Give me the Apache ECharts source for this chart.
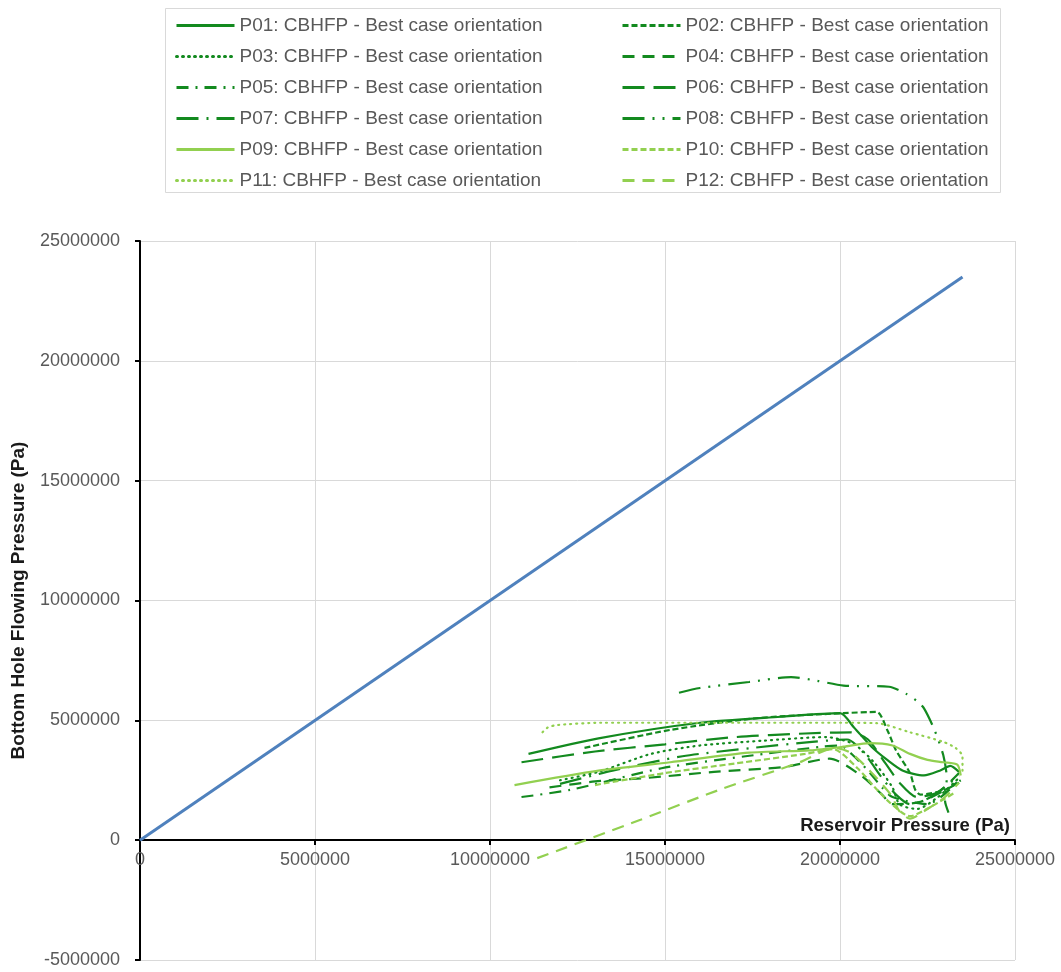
<!DOCTYPE html>
<html>
<head>
<meta charset="utf-8">
<script src="https://cdn.jsdelivr.net/npm/echarts@6/dist/echarts.min.js"></script>
<style>
  html, body { margin: 0; padding: 0; background: #fff; }
  #chart { width: 1061px; height: 972px; }
</style>
</head>
<body>
<div id="chart"></div>
<script>
// Reservoir pressure (x, Pa) against bottom hole flowing pressure (y, Pa)
const xTicks = [0, 5000000, 10000000, 15000000, 20000000, 25000000];
const yTicks = [-5000000, 0, 5000000, 10000000, 15000000, 20000000, 25000000];

const referenceLine = [[0, 0], [23.5e6, 23.5e6]];

const p01 = [[11.1e6, 3.6e6], [13.1e6, 4.25e6], [16.0e6, 4.9e6], [18.3e6, 5.15e6], [20.0e6, 5.3e6],
  [20.4e6, 4.7e6], [20.9e6, 3.9e6], [21.35e6, 3.35e6], [21.8e6, 2.9e6], [22.4e6, 2.7e6],
  [22.85e6, 2.9e6], [23.15e6, 3.1e6], [23.4e6, 2.85e6]];
const p02 = [[12.7e6, 3.85e6], [15.15e6, 4.6e6], [17.7e6, 5.1e6], [20.1e6, 5.3e6], [21.05e6, 5.35e6],
  [21.35e6, 4.6e6], [21.6e6, 3.75e6], [22.0e6, 2.8e6], [22.15e6, 2.1e6], [22.3e6, 1.9e6],
  [23.0e6, 2.1e6], [23.45e6, 2.5e6]];
const p03 = [[12.0e6, 2.5e6], [13.1e6, 2.85e6], [14.6e6, 3.6e6], [16.0e6, 3.95e6], [17.8e6, 4.15e6],
  [19.6e6, 4.3e6], [20.4e6, 4.0e6], [21.0e6, 3.2e6], [21.5e6, 2.2e6], [21.7e6, 1.5e6],
  [22.2e6, 1.3e6], [22.8e6, 1.8e6], [23.4e6, 2.6e6]];
const p04 = [[11.7e6, 2.2e6], [13.0e6, 2.45e6], [14.5e6, 2.6e6], [16.4e6, 2.85e6], [18.4e6, 3.05e6],
  [19.7e6, 3.4e6], [20.6e6, 2.7e6], [21.2e6, 1.9e6], [21.5e6, 1.5e6], [22.3e6, 1.6e6], [23.4e6, 2.4e6]];
const p05 = [[10.9e6, 1.8e6], [12.3e6, 2.1e6], [14.9e6, 3.0e6], [17.3e6, 3.5e6], [19.5e6, 3.9e6],
  [20.0e6, 3.95e6], [20.4e6, 3.5e6], [20.8e6, 2.9e6], [21.2e6, 2.2e6], [21.5e6, 1.8e6],
  [22.5e6, 1.5e6], [23.4e6, 2.5e6]];
const p06 = [[10.9e6, 3.25e6], [13.0e6, 3.7e6], [15.0e6, 4.0e6], [17.0e6, 4.3e6], [19.0e6, 4.45e6],
  [20.3e6, 4.5e6], [20.8e6, 4.2e6], [21.3e6, 3.2e6], [21.7e6, 2.4e6], [22.2e6, 1.8e6],
  [22.8e6, 2.0e6], [23.4e6, 2.8e6]];
const p07 = [[12.0e6, 2.35e6], [13.5e6, 2.9e6], [15.5e6, 3.5e6], [17.5e6, 3.85e6], [19.2e6, 4.1e6],
  [20.2e6, 4.2e6], [20.7e6, 3.6e6], [21.2e6, 2.6e6], [21.6e6, 1.9e6], [22.0e6, 1.5e6],
  [22.6e6, 1.8e6], [23.4e6, 2.7e6]];
const p08 = [[15.4e6, 6.15e6], [16.0e6, 6.35e6], [17.4e6, 6.6e6], [18.6e6, 6.8e6], [19.35e6, 6.65e6],
  [20.1e6, 6.45e6], [21.4e6, 6.4e6], [21.9e6, 6.1e6], [22.2e6, 5.8e6], [22.4e6, 5.5e6],
  [22.7e6, 4.6e6], [22.95e6, 3.55e6], [23.05e6, 2.6e6], [23.0e6, 1.65e6], [23.1e6, 1.15e6]];
const p09 = [[10.7e6, 2.3e6], [13.1e6, 2.9e6], [15.15e6, 3.25e6], [17.4e6, 3.65e6], [19.15e6, 3.75e6],
  [20.1e6, 3.9e6], [20.85e6, 4.05e6], [21.5e6, 3.95e6], [22.0e6, 3.6e6], [22.5e6, 3.35e6],
  [22.95e6, 3.25e6], [23.35e6, 3.15e6], [23.45e6, 2.7e6]];
const p10 = [[13.0e6, 2.3e6], [15.0e6, 2.8e6], [17.0e6, 3.2e6], [19.0e6, 3.6e6], [19.8e6, 3.8e6],
  [20.5e6, 3.0e6], [21.0e6, 2.2e6], [21.4e6, 1.6e6], [22.0e6, 1.0e6], [22.6e6, 1.4e6], [23.3e6, 2.0e6]];
const p11 = [[11.5e6, 4.5e6], [11.65e6, 4.7e6], [11.9e6, 4.8e6], [13.15e6, 4.9e6], [16.0e6, 4.9e6],
  [18.85e6, 4.9e6], [20.0e6, 4.9e6], [21.05e6, 4.88e6], [22.0e6, 4.5e6], [22.95e6, 4.1e6],
  [23.3e6, 3.85e6], [23.5e6, 3.5e6], [23.5e6, 2.9e6]];
const p12 = [[11.35e6, -0.75e6], [14.3e6, 0.85e6], [16.55e6, 2.1e6], [18.85e6, 3.25e6], [19.85e6, 3.85e6],
  [20.3e6, 3.65e6], [20.85e6, 2.9e6], [21.45e6, 1.9e6], [21.7e6, 1.2e6], [22.0e6, 0.9e6],
  [22.5e6, 1.3e6], [23.0e6, 1.8e6], [23.4e6, 2.4e6]];

const seriesNames = [
  'P01: CBHFP - Best case orientation', 'P02: CBHFP - Best case orientation',
  'P03: CBHFP - Best case orientation', 'P04: CBHFP - Best case orientation',
  'P05: CBHFP - Best case orientation', 'P06: CBHFP - Best case orientation',
  'P07: CBHFP - Best case orientation', 'P08: CBHFP - Best case orientation',
  'P09: CBHFP - Best case orientation', 'P10: CBHFP - Best case orientation',
  'P11: CBHFP - Best case orientation', 'P12: CBHFP - Best case orientation'
];
const seriesData = [p01, p02, p03, p04, p05, p06, p07, p08, p09, p10, p11, p12];

const DARK = '#138a1f';
const LIGHT = '#92d050';
// solid, square dot, round dot, dash, dash dot, long dash, long dash dot, long dash dot dot
const dashStyles = [
  'solid', [6, 3], [1, 5], [12, 8], [12, 7, 2, 7], [22, 9], [22, 8, 2, 8], [22, 8, 2, 8, 2, 8],
  'solid', [6, 3], [1, 5], [12, 8]
];
const seriesColors = [DARK, DARK, DARK, DARK, DARK, DARK, DARK, DARK, LIGHT, LIGHT, LIGHT, LIGHT];

const font = 'Liberation Sans, Arial, sans-serif';
const labelColor = '#595959';

const lineSeries = seriesData.map((d, i) => ({
  name: seriesNames[i],
  type: 'line',
  data: d,
  smooth: 0.25,
  symbol: 'none',
  color: seriesColors[i],
  lineStyle: {
    width: 2.2,
    color: seriesColors[i],
    type: dashStyles[i],
    cap: (i === 2 || i === 10) ? 'round' : 'butt'
  },
  z: 3
}));

const legendCommon = {
  orient: 'vertical',
  padding: 0,
  itemWidth: 58,
  itemHeight: 14,
  itemGap: 12,
  itemStyle: { opacity: 0 },
  lineStyle: { width: 3 },
  textStyle: { fontFamily: font, fontSize: 19, color: labelColor },
  selectedMode: false
};

const numberLabel = v => String(Math.round(v));

const chart = echarts.init(document.getElementById('chart'), null, { renderer: 'canvas' });
chart.setOption({
  animation: false,
  backgroundColor: '#fff',
  grid: { left: 140, right: 46, top: 241, bottom: 12, containLabel: false, outerBoundsMode: 'none' },
  legend: [
    Object.assign({}, legendCommon, { left: 175, top: 16, data: seriesNames.filter((_, i) => i % 2 === 0) }),
    Object.assign({}, legendCommon, { left: 621, top: 16, data: seriesNames.filter((_, i) => i % 2 === 1) })
  ],
  xAxis: {
    type: 'value',
    min: xTicks[0],
    max: xTicks[xTicks.length - 1],
    interval: xTicks[1] - xTicks[0],
    offset: -120,
    axisLine: { onZero: false, lineStyle: { color: '#000', width: 2 } },
    axisTick: { show: true, inside: false, length: 5, lineStyle: { color: '#000', width: 2 } },
    axisLabel: { fontFamily: font, fontSize: 18, color: labelColor, margin: 11, formatter: numberLabel },
    splitLine: { show: true, lineStyle: { color: '#d9d9d9', width: 1 } }
  },
  yAxis: {
    type: 'value',
    min: yTicks[0],
    max: yTicks[yTicks.length - 1],
    interval: yTicks[1] - yTicks[0],
    name: 'Bottom Hole Flowing Pressure (Pa)',
    nameLocation: 'middle',
    nameGap: 112,
    nameRotate: 90,
    nameTextStyle: { fontFamily: font, fontSize: 19, fontWeight: 'bold', color: '#1a1a1a' },
    axisLine: { onZero: false, lineStyle: { color: '#000', width: 2 } },
    axisTick: { show: true, inside: false, length: 5, lineStyle: { color: '#000', width: 2 } },
    axisLabel: { fontFamily: font, fontSize: 18, color: labelColor, margin: 20, formatter: numberLabel },
    splitLine: { show: true, lineStyle: { color: '#d9d9d9', width: 1 } }
  },
  graphic: [
    {
      type: 'rect',
      shape: { x: 165.5, y: 8.5, width: 835, height: 184 },
      style: { fill: 'none', stroke: '#d9d9d9', lineWidth: 1 },
      silent: true
    },
    {
      type: 'text',
      x: 1010,
      y: 826,
      style: {
        text: 'Reservoir Pressure (Pa)',
        fontFamily: font, fontSize: 18.5, fontWeight: 'bold', fill: '#1a1a1a',
        align: 'right', verticalAlign: 'middle'
      },
      z: 10
    }
  ],
  series: [
    {
      name: 'Reference',
      type: 'line',
      data: referenceLine,
      symbol: 'none',
      lineStyle: { width: 3, color: '#4f81bd' },
      color: '#4f81bd',
      z: 2
    }
  ].concat(lineSeries)
});
</script>
</body>
</html>
